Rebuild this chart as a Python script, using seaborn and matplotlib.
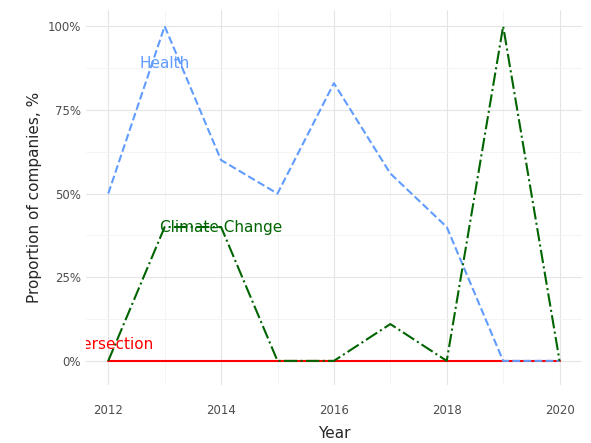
import matplotlib
matplotlib.use("Agg")
import matplotlib.pyplot as plt
import seaborn as sns
import pandas as pd
from matplotlib.ticker import FuncFormatter, MultipleLocator

years = [2012, 2013, 2014, 2015, 2016, 2017, 2018, 2019, 2020]
health = [50, 100, 60, 50, 83, 56, 40, 0, 0]
climate = [0, 40, 40, 0, 0, 11, 0, 100, 0]
intersection = [0, 0, 0, 0, 0, 0, 0, 0, 0]

sns.set_style("white")
fig, ax = plt.subplots(figsize=(5.91, 4.43), dpi=100)
fig.subplots_adjust(left=0.145, right=0.985, bottom=0.131, top=0.977)

ax.grid(True, which="major", color="#e5e5e5", lw=0.8)
ax.grid(True, which="minor", color="#f3f3f3", lw=0.6)
ax.xaxis.set_minor_locator(MultipleLocator(1))
ax.yaxis.set_minor_locator(MultipleLocator(12.5))
ax.set_axisbelow(True)

df = pd.DataFrame({"Year": years, "Health": health, "Climate": climate, "Inter": intersection})
sns.lineplot(data=df, x="Year", y="Inter", ax=ax, color="#ff0000", ls="-", lw=1.5)
sns.lineplot(data=df, x="Year", y="Health", ax=ax, color="#619cff", ls="--", lw=1.5)
sns.lineplot(data=df, x="Year", y="Climate", ax=ax, color="#006400", ls="-.", lw=1.5)

ax.text(2013, 89, "Health", color="#619cff", fontsize=11, ha="center", va="center", clip_on=True)
ax.text(2014, 40, "Climate Change", color="#006400", fontsize=11, ha="center", va="center", clip_on=True)
ax.text(2012, 5, "Intersection", color="#ff0000", fontsize=11, ha="center", va="center", clip_on=True)

ax.set_xlim(2011.6, 2020.4)
ax.set_ylim(-7.2, 104.8)
ax.set_xticks([2012, 2014, 2016, 2018, 2020])
ax.set_yticks([0, 25, 50, 75, 100])
ax.yaxis.set_major_formatter(FuncFormatter(lambda v, p: f"{int(v)}%"))
ax.tick_params(labelsize=8.5, colors="#4d4d4d", length=0)
ax.tick_params(axis="x", pad=14)
ax.set_xlabel("Year", fontsize=11, labelpad=6)
ax.set_ylabel("Proportion of companies, %", fontsize=11)
for s in ax.spines.values():
    s.set_visible(False)
fig.savefig("out.png", dpi=100)
